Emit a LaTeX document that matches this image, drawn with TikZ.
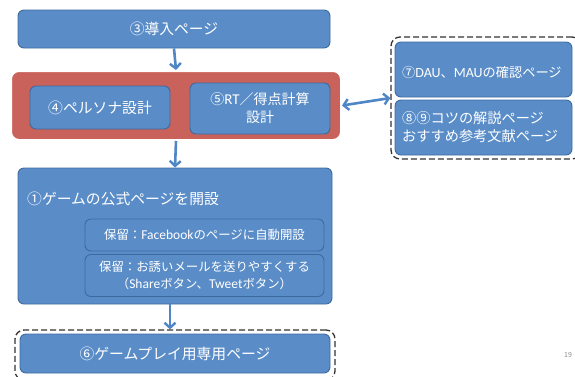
\documentclass[tikz,border=0pt]{standalone}
\usepackage{fontspec}
\setmainfont{Noto Sans CJK JP}
\newfontfamily\lat{Carlito}
\usetikzlibrary{arrows.meta,calc}
\definecolor{boxblue}{HTML}{5A8DC8}
\definecolor{boxedge}{HTML}{3D6A9E}
\definecolor{redfill}{HTML}{C9625A}
\definecolor{arrowblue}{HTML}{4F86C6}
\tikzset{
  bluebox/.style={draw=boxedge, line width=0.9pt, fill=boxblue, rounded corners=6pt, text=white, inner sep=0pt},
  dashbox/.style={draw=black!80, dashed, dash pattern=on 6pt off 3pt, line width=1.3pt, rounded corners=9pt, inner sep=0pt},
  flow/.style={draw=arrowblue, line width=2.6pt, -{Straight Barb[length=5pt,width=11pt,line width=2.4pt]}},
  flow2/.style={draw=arrowblue, line width=2.6pt, {Straight Barb[length=5pt,width=11pt,line width=2.4pt]}-{Straight Barb[length=5pt,width=11pt,line width=2.4pt]}},
  big/.style={font=\fontsize{14.8}{17}\selectfont},
}
\begin{document}
\begin{tikzpicture}[x=1pt,y=-1pt]
\useasboundingbox (0,0) rectangle (575,376);
\clip (0,0) rectangle (575,376);
% 3
\node[bluebox, minimum width=312pt, minimum height=38pt, big] (three) at (174,29) {③導入ページ};
% red group
\node[draw=white, line width=2pt, fill=redfill, rounded corners=8pt, minimum width=330pt, minimum height=69pt, inner sep=0pt] (red) at (176,105.5) {};
\node[bluebox, minimum width=140pt, minimum height=43pt, big] (four) at (100,107.5) {④ペルソナ設計};
\node[bluebox, minimum width=140pt, minimum height=51pt, font=\fontsize{14}{18}\selectfont, align=center] (five) at (260,108.5) {⑤{\lat\fontsize{15}{18}\selectfont RT}／得点計算\\設計};
% 1
\node[bluebox, minimum width=314pt, minimum height=136pt] (one) at (175,236) {};
\node[anchor=west, text=white, big, inner sep=0pt] (onet) at (27,199) {①ゲームの公式ページを開設};
\node[bluebox, minimum width=239pt, minimum height=32pt, font=\fontsize{12.4}{14}\selectfont] (hold1) at (204.5,235) {保留：{\lat\fontsize{13.5}{14}\selectfont Facebook}のページに自動開設};
\node[bluebox, minimum width=239pt, minimum height=42pt, font=\fontsize{12.4}{17}\selectfont, align=center] (hold2) at (204.5,275.5) {保留：お誘いメールを送りやすくする\\（{\lat\fontsize{13.5}{17}\selectfont Share}ボタン、{\lat\fontsize{13.5}{17}\selectfont Tweet}ボタン）};
% 6
\node[dashbox, minimum width=320pt, minimum height=50pt] (sixd) at (175,355) {};
\node[bluebox, minimum width=310pt, minimum height=39pt, big] (six) at (175,353.5) {⑥ゲームプレイ用専用ページ};
% right group
\node[dashbox, minimum width=190pt, minimum height=122pt] (rightd) at (486,98) {};
\node[bluebox, minimum width=177pt, minimum height=55pt] (seven) at (483.5,69.5) {};
\node[anchor=west, text=white, font=\fontsize{13.2}{16}\selectfont, inner sep=0pt] (sevent) at (402,72) {⑦{\lat\fontsize{14}{16}\selectfont DAU}、{\lat\fontsize{14}{16}\selectfont MAU}の確認ページ};
\node[bluebox, minimum width=177pt, minimum height=55pt] (eight) at (483.5,127.5) {};
\node[anchor=west, text=white, font=\fontsize{14.2}{18}\selectfont, inner sep=0pt, align=left] (eightt) at (402,127) {⑧⑨コツの解説ページ\\おすすめ参考文献ページ};
% page number
\node[anchor=west, text=black!45, font=\fontsize{7}{8}\selectfont, inner sep=0pt] (pg) at (564,355) {19};
% arrows
\draw[flow] (three.south) -- (red.north);
\draw[flow] (red.south) -- (one.north);
\draw[flow] ([xshift=-5pt]one.south) -- ([xshift=-5pt]sixd.north);
\draw[flow2] (red.east) -- (rightd.west);
\end{tikzpicture}
\end{document}
